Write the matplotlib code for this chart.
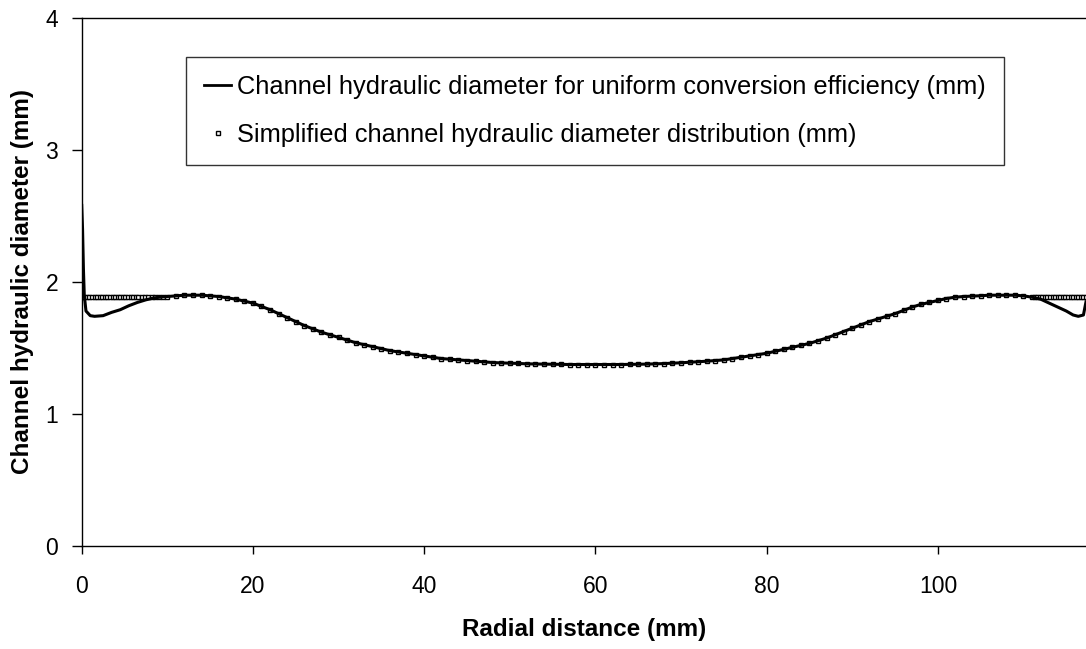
import matplotlib
matplotlib.use("Agg")
import matplotlib.pyplot as plt
from matplotlib.lines import Line2D

plt.rcParams['font.family'] = ['Liberation Sans', 'DejaVu Sans']

# ---- data ----
# full curve: channel hydraulic diameter for uniform conversion efficiency (mm)
line_left_x = [0.0, 0.1, 0.2, 0.3, 0.5, 1.0, 1.5, 2.5, 3.5, 4.5, 5.5, 6.5, 7.5, 8.5, 9.5]
line_left_y = [2.58, 2.40, 2.10, 1.90, 1.78, 1.745, 1.74, 1.745, 1.77, 1.79, 1.82, 1.845, 1.865, 1.88, 1.888]

mid_x = list(range(10, 111))
mid_y = [1.89, 1.895, 1.90, 1.90, 1.90, 1.895, 1.89, 1.88, 1.87, 1.855,
         1.84, 1.815, 1.79, 1.76, 1.73, 1.70, 1.67, 1.645, 1.62, 1.60,
         1.58, 1.56, 1.54, 1.525, 1.51, 1.495, 1.48, 1.47, 1.46, 1.45,
         1.44, 1.43, 1.42, 1.415, 1.41, 1.405, 1.40, 1.395, 1.39, 1.387,
         1.385, 1.383, 1.38, 1.379, 1.378, 1.377, 1.376, 1.375, 1.375, 1.375,
         1.375, 1.375, 1.375, 1.375, 1.376, 1.377, 1.378, 1.38, 1.382, 1.385,
         1.388, 1.392, 1.396, 1.40, 1.405, 1.41, 1.42, 1.43, 1.44, 1.45,
         1.46, 1.475, 1.49, 1.505, 1.52, 1.535, 1.555, 1.575, 1.60, 1.625,
         1.65, 1.675, 1.70, 1.72, 1.74, 1.76, 1.785, 1.81, 1.83, 1.845,
         1.86, 1.875, 1.885, 1.89, 1.893, 1.896, 1.90, 1.90, 1.90, 1.90,
         1.895]

line_right_x = [111, 112, 113, 114, 115, 115.8, 116.4, 117.0, 117.3]
line_right_y = [1.885, 1.87, 1.84, 1.81, 1.78, 1.75, 1.74, 1.75, 1.85]

# simplified distribution (markers): constant at the edges, curve in the middle
simp_left_x = [0.0, 0.3, 0.6, 0.9, 1.2, 1.5, 1.8, 2.1, 2.4, 2.7, 3.0, 3.3, 3.6, 3.9,
               4.2, 4.5, 4.8, 5.1, 5.4, 5.7, 6.0, 6.3, 6.6, 7.0, 7.4, 7.8, 8.2,
               8.6, 9.0, 9.5]
simp_left_y = [1.89] * len(simp_left_x)
simp_right_x = [111.0, 111.3, 111.6, 111.9, 112.2, 112.5, 112.8, 113.1, 113.4,
                113.7, 114.0, 114.3, 114.6, 114.9, 115.2, 115.5, 115.8, 116.1,
                116.4, 116.7, 117.0, 117.3]
simp_right_y = [1.89] * len(simp_right_x)

line_x = line_left_x + mid_x + line_right_x
line_y = line_left_y + mid_y + line_right_y
simp_x = simp_left_x + mid_x + simp_right_x
simp_y = simp_left_y + mid_y + simp_right_y

label_line = "Channel hydraulic diameter for uniform conversion efficiency (mm)"
label_simp = "Simplified channel hydraulic diameter distribution (mm)"

# ---- figure ----
fig = plt.figure(figsize=(10.86, 6.49), dpi=100)
ax = fig.add_axes([81.7 / 1086, 1 - 546 / 649, 1 - 81.7 / 1086, (546 - 18) / 649])

ax.plot(simp_x, simp_y, linestyle='none', marker='s', markersize=3.4,
        markerfacecolor='white', markeredgecolor='black', markeredgewidth=1.0,
        zorder=2)
ax.plot(line_x, line_y, color='black', linewidth=2.2, zorder=3)

ax.set_xlim(0, 117.3)
ax.set_ylim(0, 4)
ax.set_xticks([0, 20, 40, 60, 80, 100])
ax.set_yticks([0, 1, 2, 3, 4])

for s in ['left', 'bottom', 'top']:
    ax.spines[s].set_color('black')
    ax.spines[s].set_linewidth(1.0)
ax.spines['right'].set_visible(False)

ax.tick_params(axis='x', direction='out', length=6, width=1, pad=15, labelsize=16.5)
ax.tick_params(axis='y', direction='out', length=7, width=1, pad=10, labelsize=16.5)

ax.set_xlabel("Radial distance (mm)", fontsize=17.5, fontweight='bold', labelpad=14)
ax.set_ylabel("Channel hydraulic diameter (mm)", fontsize=17.5, fontweight='bold', labelpad=8)

handles = [
    Line2D([], [], color='black', linewidth=2.0),
    Line2D([], [], linestyle='none', marker='s', markersize=3.4,
           markerfacecolor='white', markeredgecolor='black', markeredgewidth=1.0),
]
leg = fig.legend(handles, [label_line, label_simp],
                 loc='upper left', bbox_to_anchor=(186 / 1086, 1 - 57 / 649),
                 fontsize=18.3, frameon=True, fancybox=False, shadow=False,
                 handlelength=1.06, handletextpad=0.24, labelspacing=0.93,
                 borderpad=0.72, borderaxespad=0)
leg.get_frame().set_edgecolor('black')
leg.get_frame().set_linewidth(1.0)

fig.savefig("out.png", dpi=100)
